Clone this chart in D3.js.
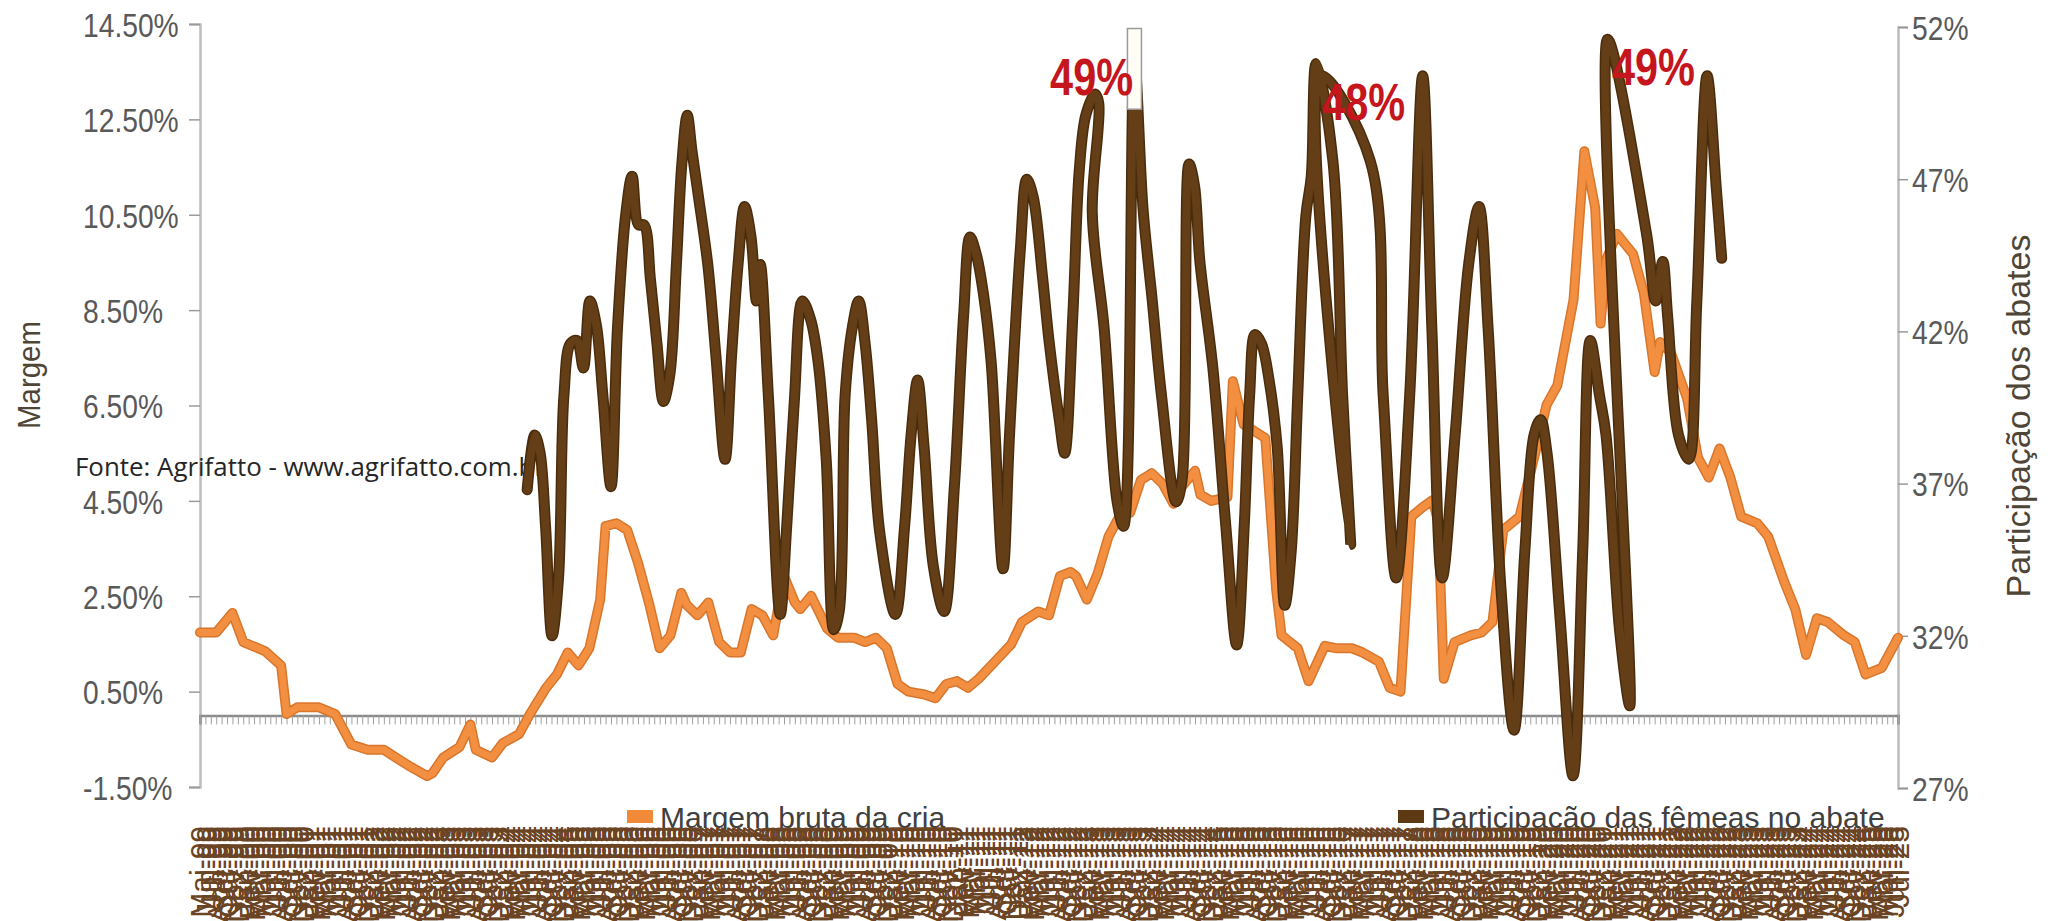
<!DOCTYPE html>
<html><head><meta charset="utf-8">
<script src="https://cdn.jsdelivr.net/npm/d3@7"></script>
<style>body{margin:0;background:#fff}svg{display:block}</style>
</head><body>
<svg id="c" width="2056" height="921"></svg>
<script>
// ---------------- data ----------------
const nMonths = 315;
const monthNames = ["Jan","Fev","Mar","Abr","Mai","Jun","Jul","Ago","Set","Out","Nov","Dez"];
const startMonth = 4, startYear = 1999;
const categories = d3.range(nMonths).map(i => {
  const m = (startMonth + i) % 12;
  const y = (startYear + Math.floor((startMonth + i) / 12)) % 100;
  return monthNames[m] + "-" + String(y).padStart(2, "0");
});
const leftTicks = [-1.5, 0.5, 2.5, 4.5, 6.5, 8.5, 10.5, 12.5, 14.5];
const rightTicks = [27, 32, 37, 42, 47, 52];
const seriesNames = ["Margem bruta da cria", "Participação das fêmeas no abate"];

// Margem bruta da cria (% , left axis): [month index, value]
const margem = [
[0,1.74],[3,1.74],[6,2.15],[8,1.54],[12,1.35],[15,1.05],[16,0.03],[18,0.17],[22,0.17],[25,0.03],
[28,-0.61],[31,-0.72],[34,-0.72],[37,-0.94],[39,-1.08],[42,-1.27],[43,-1.21],[45,-0.88],[48,-0.66],[50,-0.19],
[51,-0.72],[54,-0.88],[56,-0.58],[59,-0.39],[61,0.03],[64,0.58],[66,0.86],[68,1.32],[70,1.05],[72,1.41],
[74,2.43],[75,3.97],[77,4.03],[79,3.89],[81,3.2],[83,2.37],[85,1.41],[87,1.68],[89,2.57],[90,2.32],
[92,2.1],[94,2.37],[96,1.54],[98,1.32],[100,1.32],[102,2.23],[104,2.1],[106,1.68],[108,2.92],[110,2.37],
[111,2.23],[113,2.51],[116,1.82],[118,1.63],[121,1.63],[123,1.54],[125,1.63],[127,1.41],[129,0.66],[131,0.5],
[134,0.44],[136,0.36],[138,0.66],[140,0.72],[142,0.58],[144,0.77],[147,1.13],[150,1.49],[152,1.96],[155,2.18],
[157,2.1],[159,2.92],[161,3.01],[162,2.92],[164,2.43],[166,2.98],[168,3.75],[170,4.17],[172,4.25],[174,4.94],
[176,5.08],[178,4.86],[180,4.44],[181,4.72],[184,5.13],[185,4.63],[187,4.5],[190,4.58],[191,7.01],[193,6.1],
[195,5.96],[197,5.82],[199,2.65],[200,1.68],[203,1.41],[205,0.72],[208,1.46],[210,1.41],[213,1.41],[215,1.32],
[218,1.13],[220,0.58],[222,0.5],[224,4.17],[226,4.36],[228,4.52],[229,4.03],[230,0.77],[232,1.54],[235,1.68],
[237,1.74],[239,1.96],[241,3.89],[244,4.17],[247,5.54],[249,6.51],[251,6.92],[254,8.72],[256,11.83],[258,10.65],
[259,8.22],[260,9.54],[262,10.1],[265,9.68],[267,8.86],[269,7.2],[270,7.83],[272,7.61],[275,6.65],[277,5.41],
[279,4.99],[281,5.6],[283,4.99],[285,4.17],[288,4.03],[290,3.75],[293,2.79],[295,2.23],[297,1.27],[299,2.04],
[301,1.96],[304,1.68],[306,1.54],[308,0.86],[311,1.0],[314,1.63]
];

// Participação das fêmeas no abate (%, right axis): [month index, value] in drawing order
const participacao = [
[60.5,36.8],[61.9,38.6],[62.9,38.0],[63.9,35.6],[65.1,32.0],[66.3,33.9],[67.3,39.9],[68.5,41.6],[69.7,41.7],[70.9,40.8],
[72.1,43.0],[73.3,42.2],[74.5,39.9],[76.0,36.9],[77.2,42.1],[78.7,45.8],[79.9,47.1],[81.1,45.5],[82.1,45.5],[83.3,43.7],
[84.5,41.6],[85.7,39.7],[86.9,40.6],[88.1,44.2],[89.1,47.5],[90.1,49.1],[91.0,47.9],[92.2,46.4],[93.9,44.2],[95.4,41.2],
[97.1,37.8],[98.3,41.2],[99.5,44.2],[100.7,46.1],[101.9,45.1],[102.9,43.0],[103.6,44.2],[105.1,39.9],[107.3,32.7],[108.5,35.6],
[109.9,39.7],[111.4,43.0],[112.9,42.4],[114.3,41.0],[115.8,37.8],[117.2,32.2],[118.2,32.8],[119.3,39.9],[120.6,42.1],[121.8,43.0],
[123.0,41.6],[124.2,39.1],[125.7,35.4],[128.6,32.7],[130.3,35.6],[131.5,38.6],[132.7,40.4],[133.9,38.2],[135.6,34.3],[137.6,32.8],
[139.5,36.9],[141.2,42.5],[142.4,45.1],[143.6,44.5],[144.9,43.2],[146.3,41.0],[148.5,34.2],[149.7,38.6],[151.7,44.7],[152.9,47.0],
[154.1,46.4],[155.8,43.8],[157.0,41.7],[158.9,39.1],[159.9,38.0],[161.4,42.5],[162.6,47.3],[163.8,49.1],[165.5,49.8],[166.2,49.5],
[165.0,45.9],[167.2,42.1],[169.6,36.4],[170.8,35.6],[172.8,50.9],[174.4,46.0],[176.1,43.0],[177.8,39.9],[180.5,36.4],[181.6,37.1],
[182.9,47.5],[183.9,46.8],[184.9,44.3],[187.3,40.8],[189.7,35.6],[191.7,31.7],[193.1,35.6],[194.1,39.9],[195.1,41.9],[196.3,41.6],
[197.7,40.4],[199.2,38.2],[200.6,33.0],[201.8,34.8],[203.0,39.9],[204.5,45.8],[205.5,47.1],[206.4,50.8],[209.5,47.6],[211.3,39.9],
[212.8,35.0],[207.2,50.4],[216.4,47.6],[218.8,39.9],[221.2,33.9],[223.7,39.9],[226.1,50.4],[227.8,42.1],[229.7,33.9],[232.1,38.6],
[234.6,44.2],[236.5,46.1],[238.2,42.1],[240.6,33.5],[243.0,28.9],[245.0,34.8],[246.7,38.6],[247.9,39.1],[249.1,38.0],[251.5,32.6],
[253.9,27.4],[255.7,34.8],[257.1,41.7],[258.8,39.9],[260.0,38.6],[262.5,32.2],[264.4,29.7],[260.3,51.6],[267.5,45.2],[269.2,43.0],
[270.5,44.3],[271.4,42.5],[273.4,38.6],[275.3,37.8],[276.8,43.0],[278.7,50.4],[280.4,46.7],[281.4,44.4]
];

// peak annotations: [month index, value (baseline, right axis), text]
const annotations = [[157.2,49.77,"49%"],[207.5,48.94,"48%"],[261.1,50.09,"49%"]];
const highlightPeak = [172.8, 51.95, 49.3]; // index, top, bottom (right axis)

// ---------------- chart ----------------
const svg = d3.select("#c");
const x = d3.scaleLinear().domain([0, nMonths - 1]).range([200, 1898]);
const yL = d3.scaleLinear().domain([-1.5, 14.5]).range([787, 24]);
const yR = d3.scaleLinear().domain([27, 52]).range([788, 27]);

function condense(sel, f) {
  sel.each(function () {
    const L = this.getComputedTextLength();
    d3.select(this).attr("textLength", L * f).attr("lengthAdjust", "spacingAndGlyphs");
  });
}

// left axis
const gL = svg.append("g").attr("transform", "translate(200,0)")
  .call(d3.axisLeft(yL).tickValues(leftTicks).tickSize(11).tickFormat(d => d.toFixed(2) + "%"));
gL.select(".domain").attr("stroke", "#bdbdbd").attr("stroke-width", 2.5);
gL.selectAll(".tick line").attr("stroke", "#9a9a9a").attr("stroke-width", 1.5);
gL.selectAll(".tick text").attr("x", -117).attr("text-anchor", "start").attr("fill", "#595959")
  .style("font", "34px 'Liberation Sans', Arial, sans-serif").attr("dy", "0.36em");
condense(gL.selectAll(".tick text"), 0.83);

// right axis
const gR = svg.append("g").attr("transform", "translate(1898,0)")
  .call(d3.axisRight(yR).tickValues(rightTicks).tickSize(10).tickFormat(d => d + "%"));
gR.select(".domain").attr("stroke", "#bdbdbd").attr("stroke-width", 2.5);
gR.selectAll(".tick line").attr("stroke", "#9a9a9a").attr("stroke-width", 1.5);
gR.selectAll(".tick text").attr("x", 14).attr("fill", "#595959")
  .style("font", "34px 'Liberation Sans', Arial, sans-serif").attr("dy", "0.36em");
condense(gR.selectAll(".tick text"), 0.83);

// zero line with category ticks
const gZ = svg.append("g").attr("transform", `translate(0,${yL(0)})`)
  .call(d3.axisBottom(x).tickValues(d3.range(nMonths)).tickSize(9).tickFormat(""));
gZ.select(".domain").attr("stroke", "#8a8a8a").attr("stroke-width", 2.5);
gZ.selectAll(".tick line").attr("stroke", "#a0a0a0").attr("stroke-width", 1);

// axis titles
svg.append("text").attr("transform", `translate(40,375) rotate(-90)`).attr("text-anchor", "middle")
  .attr("fill", "#4f4536").style("font", "32px 'Liberation Sans', Arial, sans-serif").text("Margem")
  .call(s => condense(s, 0.92));
svg.append("text").attr("transform", `translate(2030,416) rotate(-90)`).attr("text-anchor", "middle")
  .attr("fill", "#4f4536").style("font", "34px 'Liberation Sans', Arial, sans-serif").text("Participação dos abates");

// source note
svg.append("text").attr("x", 75).attr("y", 476).attr("fill", "#262626")
  .style("font", "25px 'Open Sans', 'Noto Sans', sans-serif").text("Fonte: Agrifatto - www.agrifatto.com.br")
  .attr("textLength", 470).attr("lengthAdjust", "spacingAndGlyphs");

// legend
const legendItems = [
  { name: seriesNames[0], color: "#f08a38", x: 627 },
  { name: seriesNames[1], color: "#5e3a14", x: 1398 }
];
const gLeg = svg.append("g");
legendItems.forEach(it => {
  gLeg.append("rect").attr("x", it.x).attr("y", 810).attr("width", 26).attr("height", 13).attr("fill", it.color);
  gLeg.append("text").attr("x", it.x + 33).attr("y", 828).attr("fill", "#404040")
    .style("font", "30px 'Liberation Sans', Arial, sans-serif").text(it.name);
});

// category labels (bottom)
const gX = svg.append("g").attr("transform", "translate(0,826)")
  .call(d3.axisBottom(x).tickValues(d3.range(nMonths)).tickSize(0).tickFormat(i => categories[i]));
gX.select(".domain").remove();
gX.selectAll(".tick text").attr("transform", "rotate(-90)").attr("x", 0).attr("y", 0).attr("dy", "0.36em")
  .attr("text-anchor", "end").attr("fill", "#6b4424")
  .style("font", "30px 'Liberation Sans', Arial, sans-serif");

// lines
const lineL = d3.line().x(d => x(d[0])).y(d => yL(d[1]));
const lineR = d3.line().x(d => x(d[0])).y(d => yR(d[1])).curve(d3.curveCatmullRom.alpha(0.5));

svg.append("path").datum(margem).attr("d", lineL).attr("fill", "none")
  .attr("stroke", "#d8762c").attr("stroke-width", 10).attr("stroke-linejoin", "round").attr("stroke-linecap", "round");
svg.append("path").datum(margem).attr("d", lineL).attr("fill", "none")
  .attr("stroke", "#f28f40").attr("stroke-width", 7).attr("stroke-linejoin", "round").attr("stroke-linecap", "round");

svg.append("path").datum(participacao).attr("d", lineR).attr("fill", "none")
  .attr("stroke", "#4a2c0c").attr("stroke-width", 11).attr("stroke-linejoin", "round").attr("stroke-linecap", "round");
svg.append("path").datum(participacao).attr("d", lineR).attr("fill", "none")
  .attr("stroke", "#643e16").attr("stroke-width", 8).attr("stroke-linejoin", "round").attr("stroke-linecap", "round");

// highlight box over a peak
svg.append("rect").attr("x", x(highlightPeak[0]) - 7).attr("y", yR(highlightPeak[1]))
  .attr("width", 14).attr("height", yR(highlightPeak[2]) - yR(highlightPeak[1]))
  .attr("fill", "#fffdf5").attr("stroke", "#9a9a9a").attr("stroke-width", 1.5);

// annotations
svg.selectAll("text.ann").data(annotations).join("text").attr("class", "ann")
  .attr("x", d => x(d[0])).attr("y", d => yR(d[1])).attr("fill", "#c4161c")
  .style("font", "bold 52px 'Liberation Sans', Arial, sans-serif").text(d => d[2])
  .attr("textLength", 83).attr("lengthAdjust", "spacingAndGlyphs");
</script>
</body></html>
